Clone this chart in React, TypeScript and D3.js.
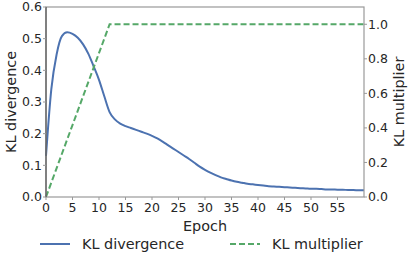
import React, { useEffect, useRef } from 'react';
import * as d3 from 'd3';

const klDivergence = [
	0.13, 0.34, 0.45, 0.508, 0.52, 0.515, 0.503, 0.482, 0.452, 0.412,
	0.37, 0.318, 0.268, 0.245, 0.232, 0.224, 0.218, 0.212, 0.206, 0.2,
	0.193, 0.185, 0.175, 0.164, 0.153, 0.142, 0.131, 0.12, 0.108, 0.096,
	0.086, 0.077, 0.069, 0.062, 0.057, 0.052, 0.048, 0.045, 0.042, 0.04,
	0.038, 0.036, 0.034, 0.033, 0.032, 0.031, 0.03, 0.029, 0.028, 0.027,
	0.026, 0.026, 0.025, 0.024, 0.024, 0.023, 0.023, 0.022, 0.022, 0.021, 0.021,
];
const multiplierEpochs = [0, 12, 60];
const multiplierValues = [0, 1, 1];

const xTicks = [0, 5, 10, 15, 20, 25, 30, 35, 40, 45, 50, 55];
const leftTicks = [0, 0.1, 0.2, 0.3, 0.4, 0.5, 0.6];
const rightTicks = [0, 0.2, 0.4, 0.6, 0.8, 1.0];

const width = 410;
const height = 261;
const margin = { top: 7, right: 46, bottom: 64, left: 46 };

const App = () => {
	const ref = useRef<SVGSVGElement>(null);

	useEffect(() => {
		const svg = d3.select(ref.current);
		svg.selectAll('*').remove();
		svg.style('font-family', '"DejaVu Sans", sans-serif');

		const x = d3.scaleLinear().domain([0, 60]).range([margin.left, width - margin.right]);
		const yL = d3.scaleLinear().domain([0, 0.6]).range([height - margin.bottom, margin.top]);
		const yR = d3.scaleLinear().domain([0, 1.1]).range([height - margin.bottom, margin.top]);

		const textColor = '#262626';
		const spine = '#999';
		const tickSize = 12.5;
		const labelSize = 14.4;

		// lines
		const blueLine = d3
			.line<number>()
			.x((d, i) => x(i))
			.y(d => yL(d))
			.curve(d3.curveMonotoneX);
		svg.append('path')
			.attr('d', blueLine(klDivergence))
			.attr('fill', 'none')
			.attr('stroke', '#4c72b0')
			.attr('stroke-width', 2);

		const greenLine = d3
			.line<number>()
			.x((d, i) => x(multiplierEpochs[i]))
			.y(d => yR(d));
		svg.append('path')
			.attr('d', greenLine(multiplierValues))
			.attr('fill', 'none')
			.attr('stroke', '#55a868')
			.attr('stroke-width', 2)
			.attr('stroke-dasharray', '6,3');

		// spines
		const x0 = x(0), x1 = x(60), y0 = yL(0), y1 = yL(0.6);
		svg.append('rect')
			.attr('x', x0)
			.attr('y', y1)
			.attr('width', x1 - x0)
			.attr('height', y0 - y1)
			.attr('fill', 'none')
			.attr('stroke', spine)
			.attr('stroke-width', 1.2);
		svg.append('line').attr('x1', x0).attr('x2', x0).attr('y1', y0).attr('y2', y1).attr('stroke', '#555').attr('stroke-width', 1.2);

		// x ticks
		const xg = svg.append('g');
		xTicks.forEach(t => {
			xg.append('line').attr('x1', x(t)).attr('x2', x(t)).attr('y1', y0).attr('y2', y0 + 3).attr('stroke', spine);
			xg.append('text')
				.attr('x', x(t))
				.attr('y', y0 + 15)
				.attr('text-anchor', 'middle')
				.attr('font-size', tickSize)
				.attr('fill', textColor)
				.text(t);
		});

		// left ticks
		leftTicks.forEach(t => {
			svg.append('line').attr('x1', x0 - 3).attr('x2', x0).attr('y1', yL(t)).attr('y2', yL(t)).attr('stroke', spine);
			svg.append('text')
				.attr('x', x0 - 4)
				.attr('y', yL(t))
				.attr('dy', '0.35em')
				.attr('text-anchor', 'end')
				.attr('font-size', tickSize)
				.attr('fill', textColor)
				.text(t.toFixed(1));
		});

		// right ticks
		rightTicks.forEach(t => {
			svg.append('line').attr('x1', x1).attr('x2', x1 + 3).attr('y1', yR(t)).attr('y2', yR(t)).attr('stroke', spine);
			svg.append('text')
				.attr('x', x1 + 4)
				.attr('y', yR(t))
				.attr('dy', '0.35em')
				.attr('text-anchor', 'start')
				.attr('font-size', tickSize)
				.attr('fill', textColor)
				.text(t.toFixed(1));
		});

		// axis labels
		svg.append('text')
			.attr('x', (x0 + x1) / 2)
			.attr('y', y0 + 34)
			.attr('text-anchor', 'middle')
			.attr('font-size', labelSize)
			.attr('fill', textColor)
			.text('Epoch');
		svg.append('text')
			.attr('transform', `translate(16,${(y0 + y1) / 2}) rotate(-90)`)
			.attr('text-anchor', 'middle')
			.attr('font-size', labelSize)
			.attr('fill', textColor)
			.text('KL divergence');
		svg.append('text')
			.attr('transform', `translate(404,${(y0 + y1) / 2}) rotate(-90)`)
			.attr('text-anchor', 'middle')
			.attr('font-size', labelSize)
			.attr('fill', textColor)
			.text('KL multiplier');

		// legend
		const ly = 244;
		svg.append('line').attr('x1', 40).attr('x2', 70).attr('y1', ly).attr('y2', ly).attr('stroke', '#4c72b0').attr('stroke-width', 2);
		svg.append('text')
			.attr('x', 82)
			.attr('y', ly)
			.attr('dy', '0.35em')
			.attr('font-size', labelSize)
			.attr('fill', textColor)
			.text('KL divergence');
		svg.append('line')
			.attr('x1', 230)
			.attr('x2', 260)
			.attr('y1', ly)
			.attr('y2', ly)
			.attr('stroke', '#55a868')
			.attr('stroke-width', 2)
			.attr('stroke-dasharray', '6,3');
		svg.append('text')
			.attr('x', 272)
			.attr('y', ly)
			.attr('dy', '0.35em')
			.attr('font-size', labelSize)
			.attr('fill', textColor)
			.text('KL multiplier');
	}, []);

	return (
		<svg
			ref={ref}
			width={width}
			height={height}
			style={{ position: 'absolute', left: 0, top: 0, background: '#fff' }}
		/>
	);
};

export default App;
